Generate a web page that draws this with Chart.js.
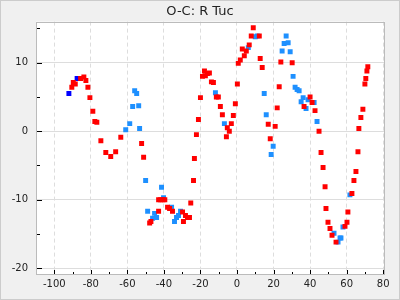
<!DOCTYPE html>
<html>
<head>
<meta charset="utf-8">
<script src="https://cdn.jsdelivr.net/npm/chart.js@4/dist/chart.umd.min.js"></script>
<style>
  html, body { margin: 0; padding: 0; background: #f0f0f0; }
  #wrap { width: 400px; height: 300px; }
</style>
</head>
<body>
<div id="wrap"><canvas id="chart" width="400" height="300"></canvas></div>
<script>
'use strict';
// O-C values (days) against cycle number
var redX = [-90.4, -89.6, -88.5, -85.6, -83.8, -82.7, -81.6, -80.5, -78.9, -77.8, -76.7, -74.5, -71.8, -69.1, -66.4, -63.6,
  -52.2, -51.1, -47.8, -47.1, -42.9, -41.8, -40.5, -39.5, -42.9, -38.0, -36.9, -35.3, -29.8, -29.3, -28.2, -27.1, -26.0,
  -25.3, -23.8, -23.3, -22.2, -21.1, -20.0, -18.9, -17.8, -17.3, -16.2, -15.1, -14.0, -12.9, -11.3, -10.2, -9.1, -8.0,
  -5.8, -5.3, -4.2, -3.1, -2.0, -0.9, 0.2, 0.7, 1.8, 2.9, 4.0, 5.1, 6.7, 7.8, 8.9, 12.2, 12.7, 13.8, 17.1, 18.2, 20.9,
  22.0, 23.1, 24.0, 30.2, 36.7, 40.0, 41.1, 42.7, 44.9, 46.0, 47.1, 48.2, 48.7, 49.8, 50.9, 52.0, 54.2, 59.1, 60.2, 60.7,
  62.9, 64.0, 65.1, 66.2, 66.7, 67.8, 68.9, 70.0, 70.5, 71.1, 71.6];
var redY = [6.4, 7.1, 6.9, 7.7, 7.9, 7.4, 6.4, 4.9, 2.9, 1.4, 1.3, -1.4, -3.1, -3.7, -3.0, -0.9,
  -1.8, -3.8, -13.4, -13.2, -10.0, -10.0, -10.0, -10.0, -11.7, -11.1, -11.3, -11.7, -11.8, -13.2, -12.3, -12.6, -12.6,
  -10.5, -7.2, -4.0, -0.5, 1.7, 4.9, 8.0, 8.8, 8.1, 8.4, 8.5, 7.2, 7.1, 5.0, 5.0, 3.6, 2.4,
  -0.8, 0.5, 0.0, 1.1, 2.3, 4.0, 6.9, 9.9, 10.4, 12.0, 11.0, 11.7, 12.6, 13.9, 15.1, 13.9, 10.6, 9.3, 1.0, -1.1, 0.7,
  3.4, 6.5, 10.1, 10.0, 3.6, 5.0, 4.2, 3.0, 0.0, -3.1, -5.3, -8.1, -11.3, -13.3, -14.2, -15.2, -16.2, -13.9, -13.3, -11.8,
  -9.1, -7.2, -5.9, -3.0, 0.4, 2.0, 3.2, 6.9, 7.7, 8.8, 9.4];

var blueX = [-60.9, -58.7, -57.1, -56.0, -54.9, -53.8, -53.3, -50.0, -48.9, -46.2, -45.1, -44.0, -41.3, -40.2, -35.8,
  -34.2, -33.1, -32.0, -30.9, -11.8, -6.9, 6.2, 10.0, 11.1, 14.9, 16.0, 18.7, 19.8, 24.7, 25.8, 26.9, 28.0, 29.1, 30.7,
  31.8, 32.9, 34.0, 35.1, 36.2, 37.8, 38.9, 42.2, 43.8, 53.1, 55.3, 56.4, 56.9, 58.0, 61.8];
var blueY = [0.2, 1.1, 3.6, 5.9, 5.5, 3.7, 0.4, -7.2, -11.7, -12.7, -12.0, -12.6, -8.2, -9.7, -11.1,
  -13.2, -12.6, -12.3, -11.7, 5.6, 1.1, 12.2, 13.8, 13.9, 5.5, 2.4, -3.4, -2.2, 11.7, 12.8, 13.9, 12.9, 11.6, 8.0,
  6.4, 6.1, 5.9, 4.3, 4.9, 3.3, 4.6, 4.2, 1.4, -14.9, -16.2, -15.6, -15.6, -14.0, -9.3];

var navyX = [-92.0, -87.5];
var navyY = [5.5, 7.7];

function toPoints(xs, ys) {
  var pts = [];
  for (var i = 0; i < xs.length; i++) {
    pts.push({x: xs[i], y: ys[i]});
  }
  return pts;
}

// white plot area, frame and inward pointing tick marks
var frame = {
  id: 'frame',
  beforeDraw: function(chart) {
    var ctx = chart.ctx, a = chart.chartArea;
    ctx.save();
    ctx.fillStyle = '#f0f0f0';
    ctx.fillRect(0, 0, chart.width, chart.height);
    ctx.fillStyle = '#ffffff';
    ctx.fillRect(a.left, a.top, a.right - a.left, a.bottom - a.top);
    ctx.restore();
  },
  afterDatasetsDraw: function(chart) {
    var ctx = chart.ctx, a = chart.chartArea;
    var xs = chart.scales.x, ys = chart.scales.y;
    ctx.save();
    ctx.strokeStyle = '#bbbbbb';
    ctx.lineWidth = 1;
    ctx.strokeRect(Math.round(a.left) + 0.5, Math.round(a.top) + 0.5,
      Math.round(a.right - a.left) - 1, Math.round(a.bottom - a.top) - 1);
    ctx.strokeStyle = '#000000';
    ctx.beginPath();
    xs.ticks.forEach(function(t) {
      if (t.value <= xs.min || t.value >= xs.max) return;
      var px = Math.round(xs.getPixelForValue(t.value)) + 0.5;
      var len = t.value % 20 === 0 ? 4 : 2;
      ctx.moveTo(px, a.bottom - 1);
      ctx.lineTo(px, a.bottom - 1 - len);
    });
    ys.ticks.forEach(function(t) {
      if (t.value <= ys.min || t.value >= ys.max) return;
      var py = Math.round(ys.getPixelForValue(t.value)) + 0.5;
      var len = t.value % 10 === 0 ? 5 : 3;
      ctx.moveTo(a.left + 1, py);
      ctx.lineTo(a.left + 1 + len, py);
    });
    ctx.stroke();
    ctx.strokeStyle = '#cccccc';
    ctx.strokeRect(0.5, 0.5, chart.width - 1, chart.height - 1);
    ctx.restore();
  }
};

Chart.defaults.font.family = '"DejaVu Sans", sans-serif';
Chart.defaults.color = '#222222';

var ctx = document.getElementById('chart').getContext('2d');
var chart = new Chart(ctx, {
  type: 'scatter',
  data: {
    datasets: [{
      data: toPoints(redX, redY),
      backgroundColor: '#ff0000'
    }, {
      data: toPoints(blueX, blueY),
      backgroundColor: '#1e90ff'
    }, {
      data: toPoints(navyX, navyY),
      backgroundColor: '#0000ff'
    }]
  },
  options: {
    responsive: false,
    animation: false,
    elements: {
      point: {
        pointStyle: 'rect',
        radius: 3.5,
        hoverRadius: 3.5,
        borderWidth: 0
      }
    },
    layout: {
      padding: 0
    },
    plugins: {
      legend: {display: false},
      tooltip: {enabled: false},
      title: {
        display: true,
        text: 'O-C: R Tuc',
        color: '#222222',
        font: {size: 13, weight: 'normal'},
        padding: {top: 4, bottom: 2}
      }
    },
    scales: {
      x: {
        min: -110,
        max: 81,
        afterFit: function(scale) { scale.height = 25; },
        ticks: {
          stepSize: 10,
          includeBounds: false,
          autoSkip: false,
          maxRotation: 0,
          padding: 3,
          font: {size: 10},
          callback: function(v) { return v % 20 === 0 ? String(v) : ''; }
        },
        grid: {
          drawTicks: false,
          color: function(c) { return c.tick && c.tick.value % 20 === 0 ? '#dddddd' : 'rgba(0,0,0,0)'; }
        },
        border: {display: false, dash: [4, 3]}
      },
      y: {
        min: -21,
        max: 16,
        afterFit: function(scale) { scale.width = 36; },
        ticks: {
          stepSize: 5,
          includeBounds: false,
          autoSkip: false,
          padding: 8,
          font: {size: 10},
          callback: function(v) { return v % 10 === 0 ? String(v) : ''; }
        },
        grid: {
          drawTicks: false,
          color: function(c) { return c.tick && c.tick.value % 10 === 0 ? '#dddddd' : 'rgba(0,0,0,0)'; }
        },
        border: {display: false}
      },
      // empty right-hand margin so the title stays centred on the canvas
      yRight: {
        position: 'right',
        min: -21,
        max: 16,
        afterFit: function(scale) { scale.width = 15; },
        ticks: {display: false},
        grid: {display: false, drawTicks: false},
        border: {display: false}
      }
    }
  },
  plugins: [frame]
});
</script>
</body>
</html>
